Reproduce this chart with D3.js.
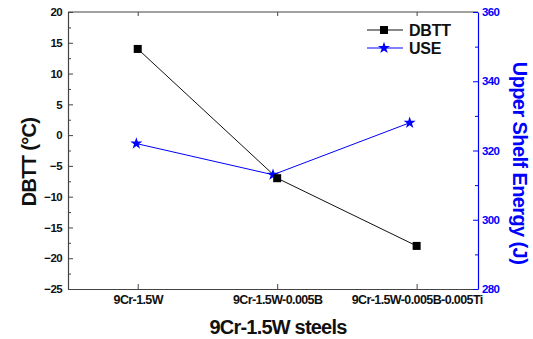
<!DOCTYPE html>
<html>
<head>
<meta charset="utf-8">
<script src="https://cdn.jsdelivr.net/npm/d3@7"></script>
<style>
  body { margin: 0; background: #fff; }
  text { font-family: "Liberation Sans", Arial, sans-serif; font-weight: bold; }
</style>
</head>
<body>
<svg id="chart" width="533" height="339"></svg>
<script>
var categories = ["9Cr-1.5W", "9Cr-1.5W-0.005B", "9Cr-1.5W-0.005B-0.005Ti"];
var dbttX = [1, 2, 3];
var dbttValues = [14, -7, -18];
var useX = [0.99, 1.97, 2.95];
var useValues = [322, 313, 328];
var leftTicks = [-25, -20, -15, -10, -5, 0, 5, 10, 15, 20];
var rightTicks = [280, 300, 320, 340, 360];

var svg = d3.select("#chart");
var plotLeft = 68, plotRight = 478, plotTop = 12, plotBottom = 289;

var x = d3.scaleLinear().domain([0.5, 3.44]).range([plotLeft, plotRight]);
var yL = d3.scaleLinear().domain([-25, 20]).range([plotBottom, plotTop]);
var yR = d3.scaleLinear().domain([280, 360]).range([plotBottom, plotTop]);

// frame top line
svg.append("line").attr("x1", plotLeft).attr("x2", plotRight).attr("y1", plotTop).attr("y2", plotTop)
  .attr("stroke", "#444").attr("stroke-width", 1.2);

// bottom axis
var xAxis = svg.append("g").attr("transform", "translate(0," + plotBottom + ")")
  .call(d3.axisBottom(x).tickValues([1, 2, 3]).tickSize(-5).tickSizeOuter(0)
    .tickFormat(function (d) { return categories[d - 1]; }));
xAxis.select(".domain").attr("stroke", "#444").attr("stroke-width", 1.2);
xAxis.selectAll("line").attr("stroke", "#444");
xAxis.selectAll("text").attr("y", 6).attr("font-size", 12.5).attr("letter-spacing", -0.6).attr("fill", "#111");

// top axis ticks
var xTop = svg.append("g").attr("transform", "translate(0," + plotTop + ")")
  .call(d3.axisTop(x).tickValues([1, 2, 3]).tickSize(-4).tickSizeOuter(0).tickFormat(""));
xTop.select(".domain").remove();
xTop.selectAll("line").attr("stroke", "#444");

// left axis
var yAxisL = svg.append("g").attr("transform", "translate(" + plotLeft + ",0)")
  .call(d3.axisLeft(yL).tickValues(leftTicks).tickSize(-5).tickSizeOuter(0).tickPadding(6));
yAxisL.select(".domain").attr("stroke", "#444").attr("stroke-width", 1.2);
yAxisL.selectAll("line").attr("stroke", "#444");
yAxisL.selectAll("text").attr("font-size", 11.5).attr("letter-spacing", -0.6).attr("fill", "#111");
svg.append("g").attr("transform", "translate(" + plotLeft + ",0)")
  .call(d3.axisLeft(yL).tickValues(d3.range(-22.5, 20, 5)).tickSize(-3).tickFormat(""))
  .call(function (g) { g.select(".domain").remove(); g.selectAll("line").attr("stroke", "#444"); });

// right axis
var yAxisR = svg.append("g").attr("transform", "translate(" + plotRight + ",0)")
  .call(d3.axisRight(yR).tickValues(rightTicks).tickSize(-5).tickSizeOuter(0).tickPadding(4));
yAxisR.select(".domain").attr("stroke", "#0000ff").attr("stroke-width", 1.2);
yAxisR.selectAll("line").attr("stroke", "#0000ff");
yAxisR.selectAll("text").attr("font-size", 11.5).attr("letter-spacing", -0.6).attr("fill", "#0000ff");
svg.append("g").attr("transform", "translate(" + plotRight + ",0)")
  .call(d3.axisRight(yR).tickValues([290, 310, 330, 350]).tickSize(-3).tickFormat(""))
  .call(function (g) { g.select(".domain").remove(); g.selectAll("line").attr("stroke", "#0000ff"); });

// axis titles
svg.append("text").attr("transform", "translate(36,162) rotate(-90)")
  .attr("text-anchor", "middle").attr("font-size", 20).attr("letter-spacing", -0.7).attr("fill", "#111")
  .text("DBTT (\u00B0C)");
svg.append("text").attr("x", 278).attr("y", 334).attr("text-anchor", "middle")
  .attr("font-size", 20).attr("letter-spacing", -0.8).attr("fill", "#111").text("9Cr-1.5W steels");
svg.append("text").attr("transform", "translate(513,163) rotate(90)")
  .attr("text-anchor", "middle").attr("font-size", 20).attr("letter-spacing", -0.6).attr("fill", "#0000ff")
  .text("Upper Shelf Energy (J)");

// DBTT series
var dbtt = dbttX.map(function (d, i) { return [d, dbttValues[i]]; });
svg.append("path").datum(dbtt)
  .attr("d", d3.line().x(function (d) { return x(d[0]); }).y(function (d) { return yL(d[1]); }))
  .attr("fill", "none").attr("stroke", "#111").attr("stroke-width", 1);

// USE series
var use = useX.map(function (d, i) { return [d, useValues[i]]; });
svg.append("path").datum(use)
  .attr("d", d3.line().x(function (d) { return x(d[0]); }).y(function (d) { return yR(d[1]); }))
  .attr("fill", "none").attr("stroke", "#0000ff").attr("stroke-width", 1);

var star = d3.symbol().type(d3.symbolStar).size(45);
svg.selectAll(".star").data(use).enter().append("path")
  .attr("transform", function (d) { return "translate(" + x(d[0]) + "," + yR(d[1]) + ")"; })
  .attr("d", star).attr("fill", "#0000ff");

svg.selectAll(".sq").data(dbtt).enter().append("rect")
  .attr("x", function (d) { return x(d[0]) - 4; })
  .attr("y", function (d) { return yL(d[1]) - 4; })
  .attr("width", 8).attr("height", 8).attr("fill", "#000");

// legend
var lg = svg.append("g");
lg.append("line").attr("x1", 367).attr("x2", 403).attr("y1", 30).attr("y2", 30).attr("stroke", "#111");
lg.append("rect").attr("x", 380).attr("y", 26).attr("width", 8).attr("height", 8).attr("fill", "#000");
lg.append("text").attr("x", 409).attr("y", 36).attr("font-size", 16).attr("letter-spacing", -0.2).attr("fill", "#111").text("DBTT");
lg.append("line").attr("x1", 367).attr("x2", 403).attr("y1", 48).attr("y2", 48).attr("stroke", "#0000ff");
lg.append("path").attr("transform", "translate(384,48)").attr("d", star).attr("fill", "#0000ff");
lg.append("text").attr("x", 409).attr("y", 54).attr("font-size", 16).attr("letter-spacing", -0.2).attr("fill", "#111").text("USE");
</script>
</body>
</html>
